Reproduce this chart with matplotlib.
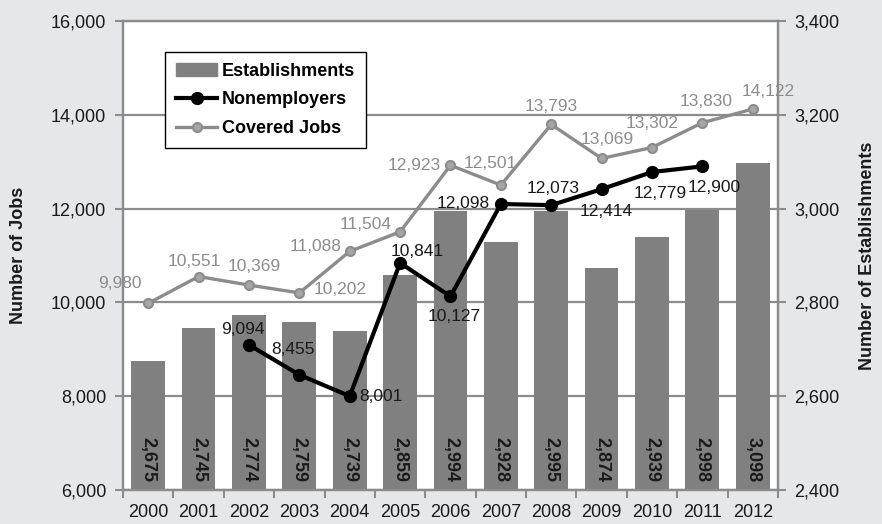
import numpy as np
import matplotlib
matplotlib.use('Agg')
import matplotlib.pyplot as plt
from matplotlib.ticker import FuncFormatter
from matplotlib.lines import Line2D
from matplotlib.patches import Patch

plt.rcParams['font.family'] = ['Liberation Sans', 'DejaVu Sans']

# Data
years = ['2000', '2001', '2002', '2003', '2004', '2005', '2006',
         '2007', '2008', '2009', '2010', '2011', '2012']
establishments = [2675, 2745, 2774, 2759, 2739, 2859, 2994,
                  2928, 2995, 2874, 2939, 2998, 3098]
covered_jobs = [9980, 10551, 10369, 10202, 11088, 11504, 12923,
                12501, 13793, 13069, 13302, 13830, 14122]
nonemp_years = ['2002', '2003', '2004', '2005', '2006', '2007',
                '2008', '2009', '2010', '2011']
nonemployers = [9094, 8455, 8001, 10841, 10127, 12098,
                12073, 12414, 12779, 12900]

# label offsets (pixels) and alignment for each point label
covered_offsets = [(-28, 20, 'center'), (-4, 15, 'center'), (5, 19, 'center'),
                   (14, 3, 'left'), (-8, 5, 'right'), (-8, 7, 'right'),
                   (-10, 0, 'right'), (-11, 22, 'center'), (0, 18, 'center'),
                   (6, 19, 'center'), (0, 24, 'center'), (4, 21, 'center'),
                   (15, 18, 'center')]
nonemp_offsets = [(-6, 15, 'center'), (-6, 25, 'center'), (10, 0, 'left'),
                  (17, 11, 'center'), (4, -20, 'center'), (-11, 0, 'right'),
                  (2, 17, 'center'), (5, -22, 'center'), (8, -21, 'center'),
                  (12, -21, 'center')]

GRAY = '#8c8c8c'
BAR = '#808080'
TXT = '#1a1a1a'

fig = plt.figure(figsize=(8.82, 5.24), dpi=100, facecolor='#e6e7e9')
ax = fig.add_axes([0.1395, 0.0649, 0.7425, 0.8951])
ax.set_facecolor('white')

x = np.arange(len(years))
ax.bar(x, establishments, width=0.67, color=BAR, zorder=2)
ax.set_xlim(-0.5, len(years) - 0.5)
ax.set_ylim(2400, 3400)
ax.set_yticks(np.arange(2400, 3401, 200))
ax.grid(axis='y', color=GRAY, lw=1.6)
ax.set_axisbelow(True)

for i, v in enumerate(establishments):
    ax.annotate(f'{v:,}', (i, 2400), xytext=(0, 8), textcoords='offset pixels',
                rotation=270, ha='center', va='bottom', fontsize=13,
                fontweight='bold', color=TXT, zorder=3)

# jobs axis on top of the bars
ax2 = ax.twinx()
ax.yaxis.tick_right()
ax.yaxis.set_label_position('right')
ax2.yaxis.tick_left()
ax2.yaxis.set_label_position('left')
ax2.set_ylim(6000, 16000)
ax2.set_yticks(np.arange(6000, 16001, 2000))

xn = [years.index(y) for y in nonemp_years]
ax2.plot(x, covered_jobs, color=GRAY, lw=2.4, marker='o', ms=6.5,
         mfc='#a6a6a6', mec=GRAY, mew=1.5)
ax2.plot(xn, nonemployers, color='black', lw=3, marker='o', ms=8.5)

for i, v in enumerate(covered_jobs):
    dx, dy, ha = covered_offsets[i]
    ax2.annotate(f'{v:,}', (x[i], v), xytext=(dx, dy), textcoords='offset pixels',
                 ha=ha, va='center', fontsize=12.5, color=GRAY)
for i, v in enumerate(nonemployers):
    dx, dy, ha = nonemp_offsets[i]
    ax2.annotate(f'{v:,}', (xn[i], v), xytext=(dx, dy), textcoords='offset pixels',
                 ha=ha, va='center', fontsize=12.5, color=TXT)

fmt = FuncFormatter(lambda v, p: f'{v:,.0f}')
ax.yaxis.set_major_formatter(fmt)
ax2.yaxis.set_major_formatter(fmt)

# year labels centred, tick marks between categories
ax.set_xticks(np.arange(-0.5, len(years), 1))
ax.set_xticklabels([])
ax.set_xticks(x, minor=True)
ax.set_xticklabels(years, minor=True)
ax.tick_params(axis='x', which='major', length=6, width=1.5, color=GRAY)
ax.tick_params(axis='x', which='minor', length=0, pad=10, labelsize=13, labelcolor=TXT)
ax.tick_params(axis='y', length=6, width=1.5, color=GRAY, pad=6,
               labelsize=13, labelcolor=TXT)
ax2.tick_params(axis='y', length=6, width=1.5, color=GRAY, pad=6,
                labelsize=13, labelcolor=TXT)

for a in (ax, ax2):
    for s in a.spines.values():
        s.set_color(GRAY)
        s.set_linewidth(1.6)

ax2.set_ylabel('Number of Jobs', fontsize=13, fontweight='bold', color=TXT, labelpad=17)
ax.set_ylabel('Number of Establishments', fontsize=13, fontweight='bold',
              color=TXT, labelpad=14)

handles = [Patch(color=BAR),
           Line2D([], [], color='black', lw=3, marker='o', ms=8.5),
           Line2D([], [], color=GRAY, lw=2.4, marker='o', ms=6.5,
                  mfc='#a6a6a6', mec=GRAY, mew=1.5)]
leg = ax2.legend(handles, ['Establishments', 'Nonemployers', 'Covered Jobs'],
                 loc='upper left', bbox_to_anchor=(0.064, 0.934),
                 prop={'weight': 'bold', 'size': 13}, fancybox=False,
                 edgecolor='black', framealpha=1, handlelength=2.3,
                 labelspacing=0.65, handletextpad=0.25, borderpad=0.6,
                 borderaxespad=0)
leg.get_frame().set_linewidth(1.0)

fig.savefig('out.png', dpi=100, facecolor=fig.get_facecolor())
